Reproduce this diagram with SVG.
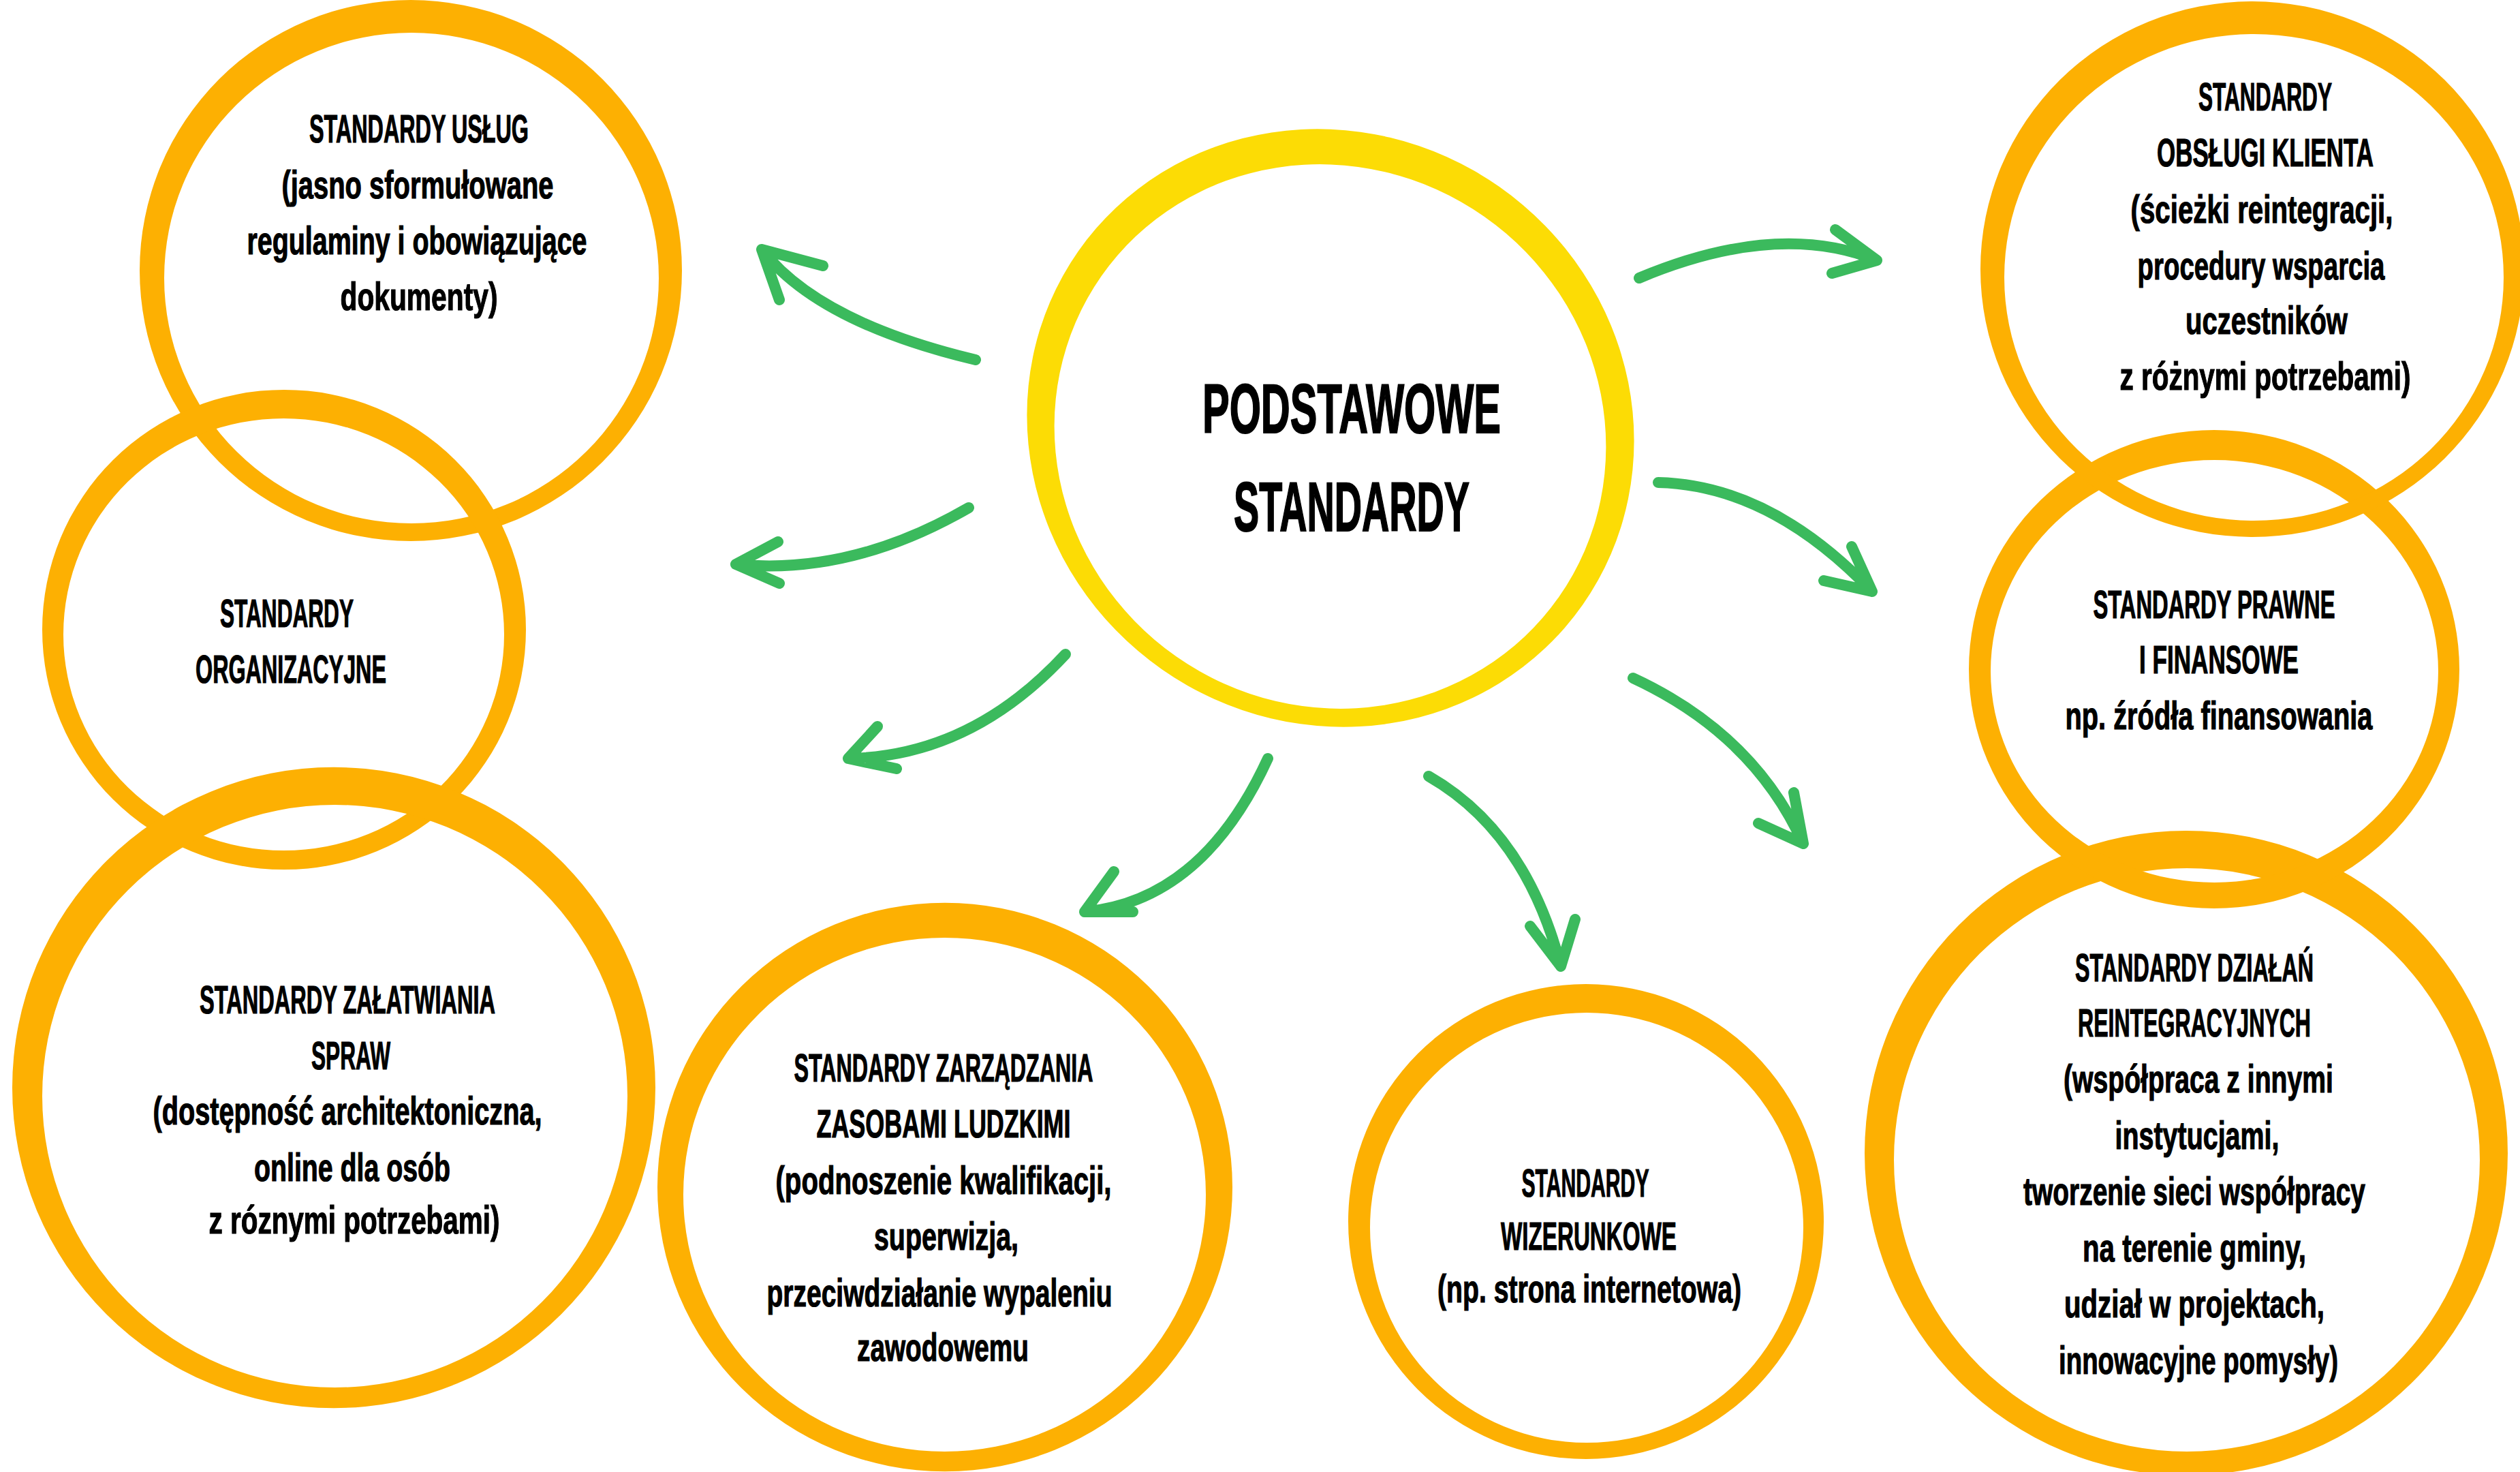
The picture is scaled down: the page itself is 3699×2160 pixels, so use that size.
<svg xmlns="http://www.w3.org/2000/svg" width="3699" height="2160" viewBox="0 0 3699 2160">
<style>
.ring{fill:#FDB002;fill-rule:evenodd;stroke:none}
.core{fill:#FCDC05;fill-rule:evenodd;stroke:none}
.arr{fill:none;stroke:#3BBA5D;stroke-width:16;stroke-linecap:round;stroke-linejoin:round}
text{font-family:"Liberation Sans","DejaVu Sans",sans-serif;font-weight:700;fill:#000;stroke:#000;text-anchor:middle}
.t{font-size:57px;stroke-width:1.2}
.big{font-size:102px;stroke-width:2}
</style>
<rect width="3699" height="2160" fill="#fff"/>
<g id="center">
<path class="core" d="M1582.7,368.7 A452,432 35 1,0 2323.3,887.3 A452,432 35 1,0 1582.7,368.7 Z M1616.6,405.3 A410,394 35 1,0 2288.4,875.7 A410,394 35 1,0 1616.6,405.3 Z"/>
<text class="big" x="1984" y="635" textLength="438" lengthAdjust="spacingAndGlyphs">PODSTAWOWE</text>
<text class="big" x="1984" y="779" textLength="346" lengthAdjust="spacingAndGlyphs">STANDARDY</text>
</g>
<g id="uslug">
<path class="ring" d="M205,397 a398,397 0 1,0 796,0 a398,397 0 1,0 -796,0 Z M241,408 a363,360 0 1,0 726,0 a363,360 0 1,0 -726,0 Z"/>
<text class="t" x="615" y="209" textLength="322" lengthAdjust="spacingAndGlyphs">STANDARDY USŁUG</text>
<text class="t" x="613" y="291" textLength="399" lengthAdjust="spacingAndGlyphs">(jasno sformułowane</text>
<text class="t" x="612" y="373" textLength="499" lengthAdjust="spacingAndGlyphs">regulaminy i obowiązujące</text>
<text class="t" x="615" y="455" textLength="231" lengthAdjust="spacingAndGlyphs">dokumenty)</text>
</g>
<g id="organizacyjne">
<path class="ring" d="M62,924 a355,352 0 1,0 710,0 a355,352 0 1,0 -710,0 Z M93,931 a323.5,317 0 1,0 647,0 a323.5,317 0 1,0 -647,0 Z"/>
<text class="t" x="421" y="920" textLength="196" lengthAdjust="spacingAndGlyphs">STANDARDY</text>
<text class="t" x="427" y="1002" textLength="280" lengthAdjust="spacingAndGlyphs">ORGANIZACYJNE</text>
</g>
<g id="zalatwiania">
<path class="ring" d="M18,1596 a472,470 0 1,0 944,0 a472,470 0 1,0 -944,0 Z M62,1608.5 a429.5,427.5 0 1,0 859,0 a429.5,427.5 0 1,0 -859,0 Z"/>
<text class="t" x="510" y="1487" textLength="434" lengthAdjust="spacingAndGlyphs">STANDARDY ZAŁATWIANIA</text>
<text class="t" x="515" y="1569" textLength="116" lengthAdjust="spacingAndGlyphs">SPRAW</text>
<text class="t" x="510" y="1650" textLength="571" lengthAdjust="spacingAndGlyphs">(dostępność architektoniczna,</text>
<text class="t" x="517" y="1733" textLength="288" lengthAdjust="spacingAndGlyphs">online dla osób</text>
<text class="t" x="520" y="1810" textLength="427" lengthAdjust="spacingAndGlyphs">z róznymi potrzebami)</text>
</g>
<g id="zasoby">
<path class="ring" d="M965,1742 a422,417 0 1,0 844,0 a422,417 0 1,0 -844,0 Z M1003,1753 a383.5,377 0 1,0 767,0 a383.5,377 0 1,0 -767,0 Z"/>
<text class="t" x="1385" y="1587" textLength="439" lengthAdjust="spacingAndGlyphs">STANDARDY ZARZĄDZANIA</text>
<text class="t" x="1385" y="1669" textLength="373" lengthAdjust="spacingAndGlyphs">ZASOBAMI LUDZKIMI</text>
<text class="t" x="1385" y="1752" textLength="493" lengthAdjust="spacingAndGlyphs">(podnoszenie kwalifikacji,</text>
<text class="t" x="1389" y="1834" textLength="212" lengthAdjust="spacingAndGlyphs">superwizja,</text>
<text class="t" x="1379" y="1917" textLength="507" lengthAdjust="spacingAndGlyphs">przeciwdziałanie wypaleniu</text>
<text class="t" x="1384" y="1997" textLength="252" lengthAdjust="spacingAndGlyphs">zawodowemu</text>
</g>
<g id="wizerunkowe">
<path class="ring" d="M1979,1792.5 a349,348.5 0 1,0 698,0 a349,348.5 0 1,0 -698,0 Z M2011,1801.5 a318,315.5 0 1,0 636,0 a318,315.5 0 1,0 -636,0 Z"/>
<text class="t" x="2327" y="1756" textLength="187" lengthAdjust="spacingAndGlyphs">STANDARDY</text>
<text class="t" x="2332" y="1834" textLength="258" lengthAdjust="spacingAndGlyphs">WIZERUNKOWE</text>
<text class="t" x="2333" y="1911" textLength="446" lengthAdjust="spacingAndGlyphs">(np. strona internetowa)</text>
</g>
<g id="reintegracyjne">
<path class="ring" d="M2737,1692 a472,473 0 1,0 944,0 a472,473 0 1,0 -944,0 Z M2780,1702 a430,428 0 1,0 860,0 a430,428 0 1,0 -860,0 Z"/>
<text class="t" x="3221" y="1440" textLength="350" lengthAdjust="spacingAndGlyphs">STANDARDY DZIAŁAŃ</text>
<text class="t" x="3221" y="1521" textLength="342" lengthAdjust="spacingAndGlyphs">REINTEGRACYJNYCH</text>
<text class="t" x="3227" y="1603" textLength="396" lengthAdjust="spacingAndGlyphs">(współpraca z innymi</text>
<text class="t" x="3225" y="1686" textLength="241" lengthAdjust="spacingAndGlyphs">instytucjami,</text>
<text class="t" x="3221" y="1768" textLength="502" lengthAdjust="spacingAndGlyphs">tworzenie sieci współpracy</text>
<text class="t" x="3221" y="1851" textLength="328" lengthAdjust="spacingAndGlyphs">na terenie gminy,</text>
<text class="t" x="3221" y="1933" textLength="382" lengthAdjust="spacingAndGlyphs">udział w projektach,</text>
<text class="t" x="3227" y="2016" textLength="410" lengthAdjust="spacingAndGlyphs">innowacyjne pomysły)</text>
</g>
<g id="prawne">
<path class="ring" d="M2890,982 a360,351 0 1,0 720,0 a360,351 0 1,0 -720,0 Z M2922,985 a328.5,310 0 1,0 657,0 a328.5,310 0 1,0 -657,0 Z"/>
<text class="t" x="3250" y="907" textLength="355" lengthAdjust="spacingAndGlyphs">STANDARDY PRAWNE</text>
<text class="t" x="3257" y="988" textLength="234" lengthAdjust="spacingAndGlyphs">I FINANSOWE</text>
<text class="t" x="3257" y="1070" textLength="451" lengthAdjust="spacingAndGlyphs">np. źródła finansowania</text>
</g>
<g id="klient">
<path class="ring" d="M2907,395 a399,393 0 1,0 798,0 a399,393 0 1,0 -798,0 Z M2942,407 a366.5,357 0 1,0 733,0 a366.5,357 0 1,0 -733,0 Z"/>
<text class="t" x="3325" y="162" textLength="196" lengthAdjust="spacingAndGlyphs">STANDARDY</text>
<text class="t" x="3325" y="244" textLength="318" lengthAdjust="spacingAndGlyphs">OBSŁUGI KLIENTA</text>
<text class="t" x="3320" y="327" textLength="385" lengthAdjust="spacingAndGlyphs">(ścieżki reintegracji,</text>
<text class="t" x="3319" y="410" textLength="363" lengthAdjust="spacingAndGlyphs">procedury wsparcia</text>
<text class="t" x="3327" y="490" textLength="238" lengthAdjust="spacingAndGlyphs">uczestników</text>
<text class="t" x="3325" y="572" textLength="427" lengthAdjust="spacingAndGlyphs">z różnymi potrzebami)</text>
</g>
<g id="connectors">
<path class="arr" d="M1432,528 Q1201,473 1118,366 M1118,366 L1208,390 M1118,366 L1144,440"/>
<path class="arr" d="M1422,745 Q1249,845 1080,828 M1080,828 L1142,795 M1080,828 L1144,856"/>
<path class="arr" d="M1564,960 Q1425,1110 1245,1113 M1245,1113 L1288,1066 M1245,1113 L1316,1128"/>
<path class="arr" d="M1861,1113 Q1765,1322 1592,1338 M1592,1338 L1635,1279 M1592,1338 L1663,1338"/>
<path class="arr" d="M2097,1139 Q2240,1221 2291,1418 M2291,1418 L2246,1359 M2291,1418 L2312,1349"/>
<path class="arr" d="M2397,995 Q2574,1077 2647,1238 M2647,1238 L2633,1163 M2647,1238 L2581,1208"/>
<path class="arr" d="M2434,708 Q2599,712 2748,868 M2748,868 L2718,802 M2748,868 L2677,852"/>
<path class="arr" d="M2406,408 Q2609,323 2755,382 M2755,382 L2694,337 M2755,382 L2689,401"/>
</g>
</svg>
